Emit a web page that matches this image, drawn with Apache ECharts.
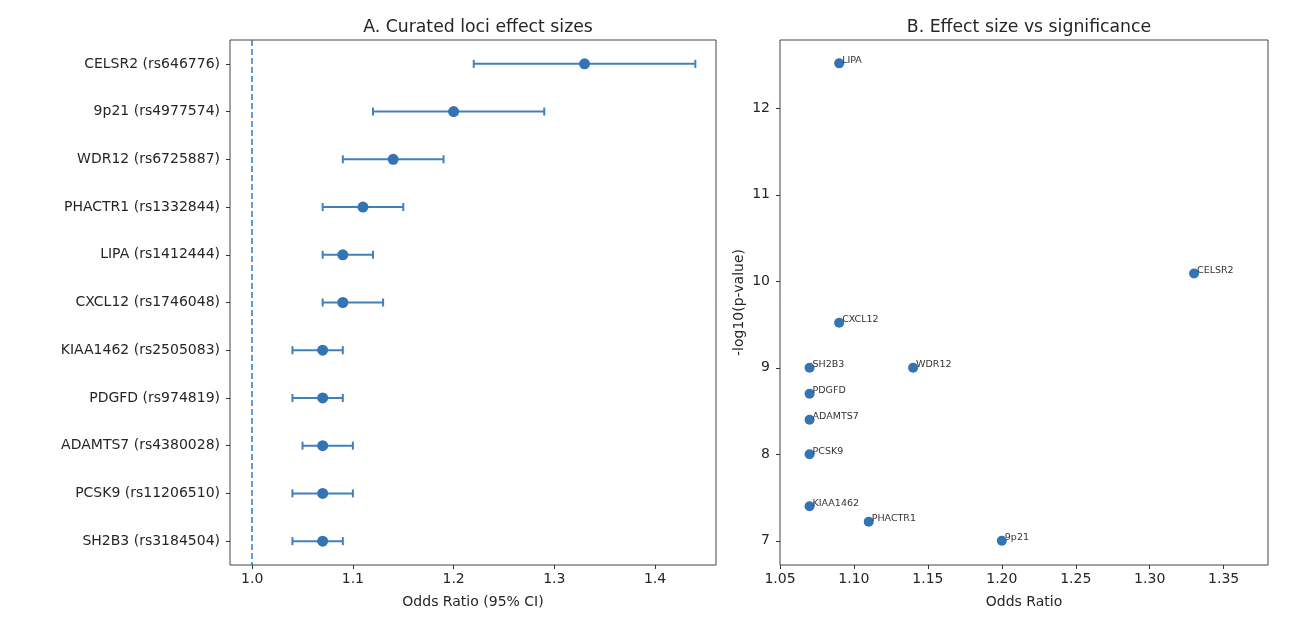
<!DOCTYPE html>
<html>
<head>
<meta charset="utf-8">
<script src="https://cdn.jsdelivr.net/npm/echarts@6/dist/echarts.min.js"></script>
<style>
  html, body { margin: 0; padding: 0; background: #fff; }
  #chart { width: 1306px; height: 626px; }
</style>
</head>
<body>
<div id="chart"></div>
<script>
// 数据
var loci = ['CELSR2 (rs646776)', '9p21 (rs4977574)', 'WDR12 (rs6725887)', 'PHACTR1 (rs1332844)',
  'LIPA (rs1412444)', 'CXCL12 (rs1746048)', 'KIAA1462 (rs2505083)', 'PDGFD (rs974819)',
  'ADAMTS7 (rs4380028)', 'PCSK9 (rs11206510)', 'SH2B3 (rs3184504)'];
var genes = ['CELSR2', '9p21', 'WDR12', 'PHACTR1', 'LIPA', 'CXCL12', 'KIAA1462', 'PDGFD', 'ADAMTS7', 'PCSK9', 'SH2B3'];
var oddsRatio = [1.33, 1.20, 1.14, 1.11, 1.09, 1.09, 1.07, 1.07, 1.07, 1.07, 1.07];
var ciLow = [1.22, 1.12, 1.09, 1.07, 1.07, 1.07, 1.04, 1.04, 1.05, 1.04, 1.04];
var ciHigh = [1.44, 1.29, 1.19, 1.15, 1.12, 1.13, 1.09, 1.09, 1.10, 1.10, 1.09];
var negLogP = [10.09, 7.00, 9.00, 7.22, 12.52, 9.52, 7.40, 8.70, 8.40, 8.00, 9.00];
var orTicks = [1.0, 1.1, 1.2, 1.3, 1.4];
var scatterXTicks = [1.05, 1.10, 1.15, 1.20, 1.25, 1.30, 1.35];
var scatterYTicks = [7, 8, 9, 10, 11, 12];

var myChart = echarts.init(document.getElementById('chart'));
var font = 'DejaVu Sans';
var txt = '#262626';
var blue = '#3474b3';
var fs = 14;

var nameStyle = { color: txt, fontFamily: font, fontSize: fs };

var option = {
  animation: false,
  title: [
    { text: 'A. Curated loci effect sizes', left: 473, top: 14, textAlign: 'center',
      textStyle: { color: txt, fontFamily: font, fontSize: 17.3, fontWeight: 'normal' } },
    { text: 'B. Effect size vs significance', left: 1024, top: 14, textAlign: 'center',
      textStyle: { color: txt, fontFamily: font, fontSize: 17.3, fontWeight: 'normal' } }
  ],
  grid: [
    { left: 230, right: 590, top: 40, bottom: 61, show: true, borderColor: '#444', borderWidth: 1 },
    { left: 780, right: 38, top: 40, bottom: 61, show: true, borderColor: '#444', borderWidth: 1 }
  ],
  xAxis: [{
    type: 'value', gridIndex: 0, min: 0.978, max: 1.4605,
    name: 'Odds Ratio (95% CI)', nameLocation: 'middle', nameGap: 30, nameTextStyle: nameStyle,
    axisLine: { show: false },
    axisTick: { show: true, customValues: orTicks, length: 4, lineStyle: { color: '#333' } },
    axisLabel: { customValues: orTicks, color: txt, fontFamily: font, fontSize: fs, margin: 7,
      formatter: function (v) { return v.toFixed(1); } },
    splitLine: { show: false }
  }, {
    type: 'value', gridIndex: 1, min: 1.05, max: 1.38,
    name: 'Odds Ratio', nameLocation: 'middle', nameGap: 30, nameTextStyle: nameStyle,
    axisLine: { show: false },
    axisTick: { show: true, customValues: scatterXTicks, length: 4, lineStyle: { color: '#333' } },
    axisLabel: { customValues: scatterXTicks, color: txt, fontFamily: font, fontSize: fs, margin: 7,
      formatter: function (v) { return v.toFixed(2); } },
    splitLine: { show: false }
  }],
  yAxis: [{
    type: 'category', gridIndex: 0, data: loci, inverse: true, boundaryGap: true,
    axisLine: { show: false },
    axisTick: { show: true, alignWithLabel: true, length: 4, lineStyle: { color: '#333' } },
    axisLabel: { color: txt, fontFamily: font, fontSize: fs, margin: 10 },
    splitLine: { show: false }
  }, {
    type: 'value', gridIndex: 1, min: 6.72, max: 12.79,
    name: '-log10(p-value)', nameLocation: 'middle', nameGap: 34, nameRotate: 90, nameTextStyle: nameStyle,
    axisLine: { show: false },
    axisTick: { show: true, customValues: scatterYTicks, length: 4, lineStyle: { color: '#333' } },
    axisLabel: { customValues: scatterYTicks, color: txt, fontFamily: font, fontSize: fs, margin: 10 },
    splitLine: { show: false }
  }],
  series: [{
    // 误差线
    type: 'custom',
    xAxisIndex: 0, yAxisIndex: 0,
    data: loci.map(function (name, i) { return [name, ciLow[i], ciHigh[i]]; }),
    encode: { y: 0, x: [1, 2] },
    renderItem: function (params, api) {
      var cat = api.value(0);
      var p1 = api.coord([api.value(1), cat]);
      var p2 = api.coord([api.value(2), cat]);
      var h = 4;
      var style = { stroke: '#4080bc', lineWidth: 2, fill: null };
      return {
        type: 'group',
        children: [
          { type: 'line', shape: { x1: p1[0], y1: p1[1], x2: p2[0], y2: p2[1] }, style: style },
          { type: 'line', shape: { x1: p1[0], y1: p1[1] - h, x2: p1[0], y2: p1[1] + h }, style: style },
          { type: 'line', shape: { x1: p2[0], y1: p2[1] - h, x2: p2[0], y2: p2[1] + h }, style: style }
        ]
      };
    },
    z: 2
  }, {
    type: 'scatter',
    xAxisIndex: 0, yAxisIndex: 0,
    data: loci.map(function (name, i) { return [oddsRatio[i], name]; }),
    symbolSize: 11,
    itemStyle: { color: blue, opacity: 1 },
    markLine: {
      silent: true, symbol: 'none', label: { show: false },
      lineStyle: { color: '#3a84c6', type: [6, 3], width: 1.6 },
      data: [{ xAxis: 1.0 }]
    },
    z: 3
  }, {
    type: 'scatter',
    xAxisIndex: 1, yAxisIndex: 1,
    data: genes.map(function (g, i) { return { name: g, value: [oddsRatio[i], negLogP[i]] }; }),
    symbolSize: 10,
    itemStyle: { color: blue, opacity: 1 },
    label: {
      show: true, position: 'inside', align: 'left', verticalAlign: 'middle', offset: [3, -3],
      formatter: '{b}', color: '#333', fontFamily: font, fontSize: 9.5
    }
  }]
};

myChart.setOption(option);
window.addEventListener('resize', function () {
  myChart.resize();
});
</script>
</body>
</html>
